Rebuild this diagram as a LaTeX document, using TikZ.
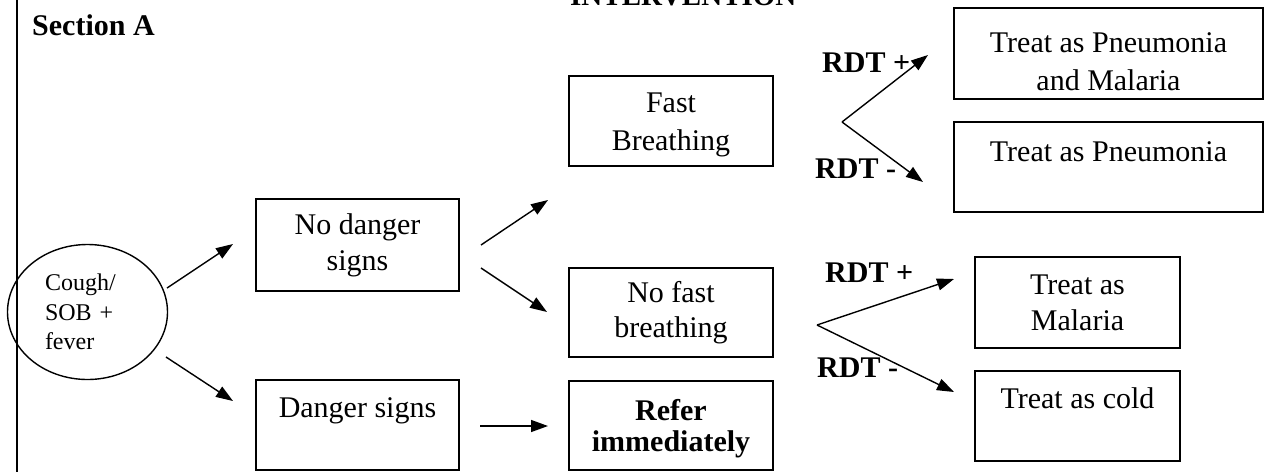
\documentclass[tikz,border=0pt]{standalone}
\usepackage{fontspec}
\setmainfont{Liberation Serif}
\usetikzlibrary{arrows.meta,shapes.geometric}
\newcommand\hgt[1]{\rule{0pt}{#1}}
\newcommand\dep[1]{\rule[-#1]{0pt}{#1}}
\begin{document}
\begin{tikzpicture}[x=1pt,y=-1pt,
  box/.style={draw, line width=1.4pt, inner sep=0pt, align=center, font=\fontsize{30}{36}\selectfont},
  arr/.style={line width=1.4pt, -{Triangle[length=17pt,width=12pt]}},
  lab/.style={anchor=base west, inner sep=0pt, font=\fontsize{30}{36}\selectfont\bfseries}]
\clip (0,0) rectangle (1265,472);
% frame line and headings
\coordinate (ltop) at (17,0);
\coordinate (lbot) at (17,472);
\draw[line width=1.4pt] (ltop) -- (lbot);
\node[lab] (secA) at (32,35) {Section A};
\node[lab, font=\fontsize{29}{34}\selectfont\bfseries] (interv) at (570,5) {INTERVENTION};
% start ellipse
\node[draw, ellipse, line width=1.4pt, minimum width=160pt, minimum height=135pt, inner sep=0pt,
      text width=85pt, align=left, font=\fontsize{24}{29.5}\selectfont] (start) at (87.5,312) {Cough/\\SOB +\\fever};
% boxes
\node[box, minimum width=203pt, minimum height=92pt] (nodanger) at (357.5,245) {No danger\\signs};
\node[box, minimum width=203pt, minimum height=90pt] (danger) at (357.5,425) {Danger signs\dep{34.5pt}};
\node[box, minimum width=204pt, minimum height=90pt, font=\fontsize{30}{38}\selectfont] (fast) at (671,121) {\hgt{26.5pt}Fast\\Breathing};
\node[box, minimum width=204pt, minimum height=89pt, font=\fontsize{30}{35}\selectfont] (nofast) at (671,312.5) {No fast\\breathing};
\node[box, minimum width=204pt, minimum height=89pt, font=\fontsize{30}{31}\selectfont\bfseries] (refer) at (671,425.5) {\hgt{27.5pt}Refer\\immediately};
\node[box, minimum width=309pt, minimum height=91pt, font=\fontsize{30}{38}\selectfont] (pm) at (1108.5,53.5) {\hgt{37pt}Treat as Pneumonia\\and Malaria};
\node[box, minimum width=309pt, minimum height=90pt] (pn) at (1108.5,167) {Treat as Pneumonia\dep{30.5pt}};
\node[box, minimum width=205pt, minimum height=91pt] (mal) at (1077.5,302.5) {Treat as\\Malaria};
\node[box, minimum width=205pt, minimum height=90pt] (cold) at (1077.5,416) {Treat as cold\dep{36.5pt}};
% connector end points
\coordinate (s1) at (167,288); \coordinate (t1) at (233,244);
\coordinate (s2) at (166,357); \coordinate (t2) at (233,401);
\coordinate (s3) at (481,245); \coordinate (t3) at (548,200);
\coordinate (s4) at (481,268); \coordinate (t4) at (547,312);
\coordinate (s5) at (480,426); \coordinate (t5) at (548,426);
\coordinate (fk1) at (842,122); \coordinate (fk1u) at (928,55); \coordinate (fk1d) at (923,182);
\coordinate (fk2) at (817,325); \coordinate (fk2u) at (954,279); \coordinate (fk2d) at (954,392);
% arrows
\draw[arr] (s1) -- (t1);
\draw[arr] (s2) -- (t2);
\draw[arr] (s3) -- (t3);
\draw[arr] (s4) -- (t4);
\draw[arr] (s5) -- (t5);
\draw[arr] (fk1) -- (fk1u);
\draw[arr] (fk1) -- (fk1d);
\draw[arr] (fk2) -- (fk2u);
\draw[arr] (fk2) -- (fk2d);
% labels
\node[lab] (l1) at (822,72) {RDT +};
\node[lab] (l2) at (815,178) {RDT -};
\node[lab] (l3) at (825,282) {RDT +};
\node[lab] (l4) at (817,377) {RDT -};
\end{tikzpicture}
\end{document}
